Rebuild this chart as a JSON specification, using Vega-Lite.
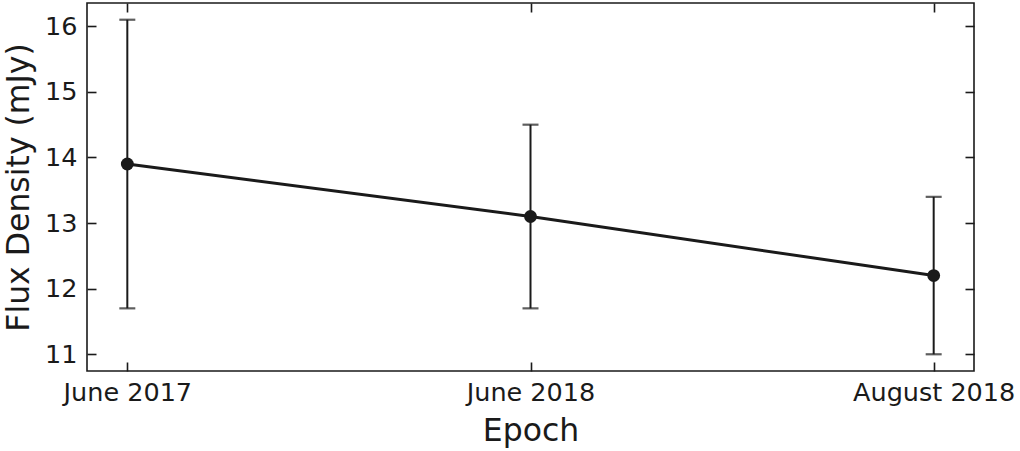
{
  "$schema": "https://vega.github.io/schema/vega-lite/v6.json",
  "width": 887,
  "height": 368,
  "autosize": "none",
  "padding": {"left": 87, "top": 3, "right": 46, "bottom": 80},
  "background": "white",
  "config": {
    "font": "DejaVu Sans",
    "view": {"stroke": "#1a1a1a", "strokeWidth": 1.6},
    "axis": {
      "domain": false,
      "grid": false,
      "tickColor": "#1a1a1a",
      "tickWidth": 1.6,
      "tickSize": 9,
      "offset": -9,
      "labelColor": "#1a1a1a",
      "labelFont": "DejaVu Sans",
      "labelFontSize": 25.5,
      "titleFont": "DejaVu Sans",
      "titleFontSize": 31.5,
      "titleFontWeight": "normal",
      "titleColor": "#1a1a1a"
    }
  },
  "data": {
    "values": [
      {"epoch": "June 2017", "flux": 13.9, "low": 11.7, "high": 16.1},
      {"epoch": "June 2018", "flux": 13.1, "low": 11.7, "high": 14.5},
      {"epoch": "August 2018", "flux": 12.2, "low": 11.0, "high": 13.4}
    ]
  },
  "layer": [
    {
      "encoding": {
        "x": {
          "field": "epoch",
          "type": "ordinal",
          "sort": ["June 2017", "June 2018", "August 2018"],
          "scale": {"type": "point", "padding": 0.1},
          "axis": {"title": "Epoch", "labelAngle": 0, "labelPadding": 9, "titlePadding": 10}
        }
      },
      "layer": [
        {
          "mark": {"type": "rule", "color": "#1a1a1a", "strokeWidth": 2},
          "encoding": {
            "y": {
              "field": "low",
              "type": "quantitative",
              "scale": {"domain": [10.745, 16.355], "nice": false, "zero": false},
              "axis": {"title": "Flux Density (mJy)", "values": [11, 12, 13, 14, 15, 16], "labelPadding": 10, "titlePadding": 9}
            },
            "y2": {"field": "high"}
          }
        },
        {
          "mark": {"type": "tick", "color": "#1a1a1a", "size": 16, "thickness": 2.2},
          "encoding": {"y": {"field": "low", "type": "quantitative", "axis": {"title": "Flux Density (mJy)", "values": [11, 12, 13, 14, 15, 16], "labelPadding": 10, "titlePadding": 9}}}
        },
        {
          "mark": {"type": "tick", "color": "#1a1a1a", "size": 16, "thickness": 2.2},
          "encoding": {"y": {"field": "high", "type": "quantitative", "axis": {"title": "Flux Density (mJy)", "values": [11, 12, 13, 14, 15, 16], "labelPadding": 10, "titlePadding": 9}}}
        },
        {
          "mark": {"type": "line", "color": "#1a1a1a", "strokeWidth": 3},
          "encoding": {"y": {"field": "flux", "type": "quantitative", "axis": {"title": "Flux Density (mJy)", "values": [11, 12, 13, 14, 15, 16], "labelPadding": 10, "titlePadding": 9}}}
        },
        {
          "mark": {"type": "point", "filled": true, "color": "#1a1a1a", "opacity": 1, "size": 165},
          "encoding": {"y": {"field": "flux", "type": "quantitative", "axis": {"title": "Flux Density (mJy)", "values": [11, 12, 13, 14, 15, 16], "labelPadding": 10, "titlePadding": 9}}}
        }
      ]
    },
    {
      "mark": {"type": "point", "opacity": 0},
      "encoding": {
        "x": {
          "field": "epoch",
          "type": "ordinal",
          "sort": ["June 2017", "June 2018", "August 2018"],
          "axis": {"orient": "top", "labels": false, "title": null}
        },
        "y": {
          "field": "flux",
          "type": "quantitative",
          "axis": {"orient": "right", "labels": false, "title": null, "values": [11, 12, 13, 14, 15, 16]}
        }
      }
    }
  ],
  "resolve": {"axis": {"x": "independent", "y": "independent"}}
}
